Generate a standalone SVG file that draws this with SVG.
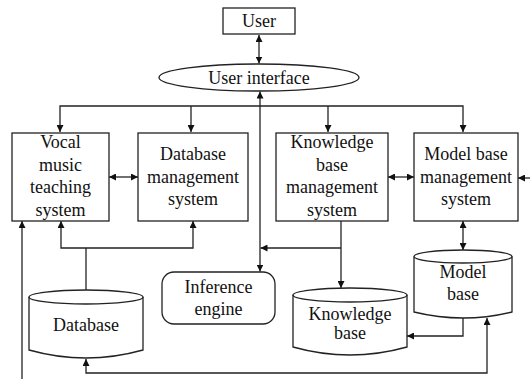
<svg xmlns="http://www.w3.org/2000/svg" width="530" height="379" viewBox="0 0 530 379">
  <style>
    .box { fill: #fff; stroke: #222; stroke-width: 1.3; }
    .ln { fill: none; stroke: #222; stroke-width: 1.3; }
    .t { font-family: 'Liberation Serif', 'Times New Roman', serif; font-size: 18px; fill: #111; text-anchor: middle; }
  </style>
  <defs>
    <marker id="ah" viewBox="0 0 10 10" refX="10" refY="5" markerWidth="7" markerHeight="7" markerUnits="userSpaceOnUse" orient="auto-start-reverse">
      <path d="M0,0 L10,5 L0,10 Z" fill="#111"/>
    </marker>
  </defs>
  <rect width="530" height="379" fill="#fff"/>

  <g id="connectors">
    <!-- user <-> user interface -->
    <line class="ln" x1="259" y1="35" x2="259" y2="63.5" marker-start="url(#ah)" marker-end="url(#ah)"/>
    <!-- distribution bus from the interface to the four subsystems -->
    <polyline class="ln" points="60,132 60,106 463,106 463,132" marker-start="url(#ah)" marker-end="url(#ah)"/>
    <line class="ln" x1="191" y1="106" x2="191" y2="132" marker-end="url(#ah)"/>
    <line class="ln" x1="328" y1="106" x2="328" y2="132" marker-end="url(#ah)"/>
    <!-- vertical trunk between interface and inference engine -->
    <line class="ln" x1="260" y1="91.5" x2="260" y2="271.5" marker-start="url(#ah)" marker-end="url(#ah)"/>
    <!-- subsystem pairs -->
    <line class="ln" x1="109" y1="177" x2="138" y2="177" marker-start="url(#ah)" marker-end="url(#ah)"/>
    <line class="ln" x1="388" y1="177" x2="414" y2="177" marker-start="url(#ah)" marker-end="url(#ah)"/>
    <line class="ln" x1="530" y1="178" x2="518" y2="178" marker-end="url(#ah)"/>
    <!-- model base management <-> model base -->
    <line class="ln" x1="463" y1="221" x2="463" y2="250" marker-start="url(#ah)" marker-end="url(#ah)"/>
    <!-- knowledge base management -> knowledge base / trunk -->
    <line class="ln" x1="341" y1="221" x2="341" y2="288" marker-end="url(#ah)"/>
    <line class="ln" x1="341" y1="248" x2="260.5" y2="248" marker-end="url(#ah)"/>
    <!-- database -> vocal system and database management -->
    <line class="ln" x1="86" y1="290" x2="86" y2="248"/>
    <polyline class="ln" points="61,221 61,248 193,248 193,221" marker-start="url(#ah)" marker-end="url(#ah)"/>
    <!-- model base -> knowledge base -->
    <polyline class="ln" points="463,318 463,336 407,336" marker-end="url(#ah)"/>
    <!-- bottom return line -->
    <polyline class="ln" points="86,359 86,373 487,373 487,318" marker-start="url(#ah)" marker-end="url(#ah)"/>
    <!-- left feed into vocal music teaching system -->
    <line class="ln" x1="22" y1="379" x2="22" y2="221" marker-end="url(#ah)"/>
  </g>

  <g id="user">
    <rect class="box" x="223" y="8" width="72" height="26"/>
    <text class="t" x="259" y="27">User</text>
  </g>

  <g id="user-interface">
    <ellipse class="box" cx="259" cy="77.5" rx="100" ry="13.5"/>
    <text class="t" x="259" y="84">User interface</text>
  </g>

  <g id="vocal-system">
    <rect class="box" x="12" y="133" width="97" height="88"/>
    <text class="t" x="60.5" y="148">Vocal</text>
    <text class="t" x="60.5" y="170.5">music</text>
    <text class="t" x="60.5" y="193">teaching</text>
    <text class="t" x="60.5" y="215.5">system</text>
  </g>

  <g id="database-management">
    <rect class="box" x="138" y="133" width="110" height="88"/>
    <text class="t" x="193" y="160">Database</text>
    <text class="t" x="193" y="182.5">management</text>
    <text class="t" x="193" y="205">system</text>
  </g>

  <g id="knowledge-management">
    <rect class="box" x="276" y="133" width="112" height="88"/>
    <text class="t" x="332" y="148">Knowledge</text>
    <text class="t" x="332" y="170.5">base</text>
    <text class="t" x="332" y="193">management</text>
    <text class="t" x="332" y="215.5">system</text>
  </g>

  <g id="model-management">
    <rect class="box" x="414" y="133" width="104" height="88"/>
    <text class="t" x="466" y="160">Model base</text>
    <text class="t" x="466" y="182.5">management</text>
    <text class="t" x="466" y="205">system</text>
  </g>

  <g id="inference-engine">
    <rect class="box" x="162" y="272" width="113" height="52" rx="12" ry="12"/>
    <text class="t" x="218.5" y="293">Inference</text>
    <text class="t" x="218.5" y="315">engine</text>
  </g>

  <g id="database">
    <path class="box" d="M29,297 A57,7 0 0 1 143,297 L143,350 Q86,366 29,350 Z"/>
    <path class="ln" d="M29,297 A57,7 0 0 0 143,297"/>
    <text class="t" x="86" y="331">Database</text>
  </g>

  <g id="knowledge-base">
    <path class="box" d="M293,295 A57,7 0 0 1 407,295 L407,347 Q350,363 293,347 Z"/>
    <path class="ln" d="M293,295 A57,7 0 0 0 407,295"/>
    <text class="t" x="350" y="320">Knowledge</text>
    <text class="t" x="350" y="339">base</text>
  </g>

  <g id="model-base">
    <path class="box" d="M414,256.5 A49,6.5 0 0 1 512,256.5 L512,312 Q463,324 414,312 Z"/>
    <path class="ln" d="M414,256.5 A49,6.5 0 0 0 512,256.5"/>
    <text class="t" x="463" y="278">Model</text>
    <text class="t" x="463" y="300">base</text>
  </g>
</svg>
